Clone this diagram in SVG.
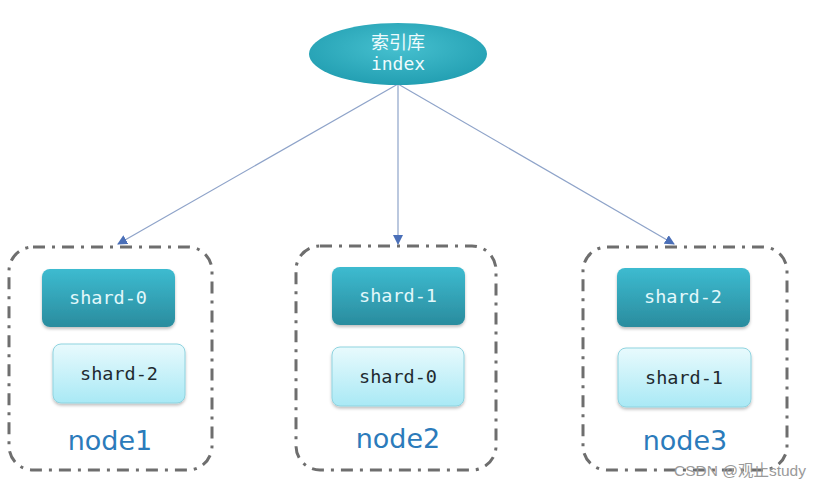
<svg xmlns="http://www.w3.org/2000/svg" width="821" height="488" viewBox="0 0 821 488">
<defs>
<linearGradient id="dark" x1="0" y1="0" x2="0" y2="1"><stop offset="0" stop-color="#3dbbd0"/><stop offset="1" stop-color="#2a8c9e"/></linearGradient>
<linearGradient id="light" x1="0" y1="0" x2="0" y2="1"><stop offset="0" stop-color="#e8fafd"/><stop offset="1" stop-color="#a9e9f5"/></linearGradient>
<radialGradient id="ell" cx="0.5" cy="0.4" r="0.6"><stop offset="0" stop-color="#46c0cf"/><stop offset="1" stop-color="#239fb2"/></radialGradient>
<filter id="sh" x="-10%" y="-10%" width="120%" height="130%"><feDropShadow dx="0" dy="2" stdDeviation="1.5" flood-color="#000" flood-opacity="0.25"/></filter>
<marker id="ah" markerWidth="10" markerHeight="10" refX="9" refY="5" orient="auto" markerUnits="userSpaceOnUse"><path d="M0,0 L10,5 L0,10 z" fill="#4a6fb8"/></marker>
</defs>
<style>
.box{fill:none;stroke:#6e6e6e;stroke-width:3;stroke-dasharray:12 7 3 7}
.dk{fill:url(#dark);filter:url(#sh)}
.lt{fill:url(#light);stroke:#8fd3df;stroke-width:1;filter:url(#sh)}
.st{font-family:"DejaVu Sans Mono",monospace;font-size:18.5px;text-anchor:middle}
.tdk{fill:#e2f8fb}
.tlt{fill:#1e2a30}
.nl{font-family:"DejaVu Sans",sans-serif;font-size:27px;fill:#2b7bbb;text-anchor:middle}
.cn{stroke:#8ea3c9;stroke-width:1.2;fill:none;marker-end:url(#ah)}
</style>
<rect width="821" height="488" fill="#ffffff"/>
<g id="connectors">
<line class="cn" x1="398" y1="84" x2="118" y2="244"/>
<line class="cn" x1="398" y1="84" x2="398" y2="244"/>
<line class="cn" x1="398" y1="84" x2="674" y2="244"/>
</g>
<g id="index">
<ellipse cx="398" cy="54" rx="89" ry="31" fill="url(#ell)"/>
<text x="398" y="49" font-family="'Noto Sans CJK SC',sans-serif" font-size="18" fill="#eefbfd" text-anchor="middle">索引库</text>
<text x="398" y="70" font-family="'DejaVu Sans Mono',monospace" font-size="18" fill="#eefbfd" text-anchor="middle">index</text>
</g>
<g id="node1">
<rect class="box" x="9" y="247" width="203" height="223" rx="24"/>
<rect class="dk" x="42" y="269" width="133" height="58" rx="8"/>
<text class="st tdk" x="108" y="304">shard-0</text>
<rect class="lt" x="53" y="344" width="132" height="59" rx="8"/>
<text class="st tlt" x="119" y="380">shard-2</text>
<text class="nl" x="110" y="450">node1</text>
</g>
<g id="node2">
<rect class="box" x="296" y="246" width="200" height="224" rx="24"/>
<rect class="dk" x="332" y="267" width="133" height="58" rx="8"/>
<text class="st tdk" x="398" y="302">shard-1</text>
<rect class="lt" x="332" y="347" width="132" height="59" rx="8"/>
<text class="st tlt" x="398" y="383">shard-0</text>
<text class="nl" x="398" y="448">node2</text>
</g>
<g id="node3">
<rect class="box" x="583" y="247" width="204" height="223" rx="24"/>
<rect class="dk" x="617" y="268" width="133" height="59" rx="8"/>
<text class="st tdk" x="683" y="303">shard-2</text>
<rect class="lt" x="618" y="348" width="133" height="59" rx="8"/>
<text class="st tlt" x="684" y="384">shard-1</text>
<text class="nl" x="685" y="450">node3</text>
</g>
<text x="806" y="476" font-family="'Liberation Sans','Noto Sans CJK SC',sans-serif" font-size="15.5" fill="#9a9a9a" text-anchor="end">CSDN @观止study</text>
</svg>
